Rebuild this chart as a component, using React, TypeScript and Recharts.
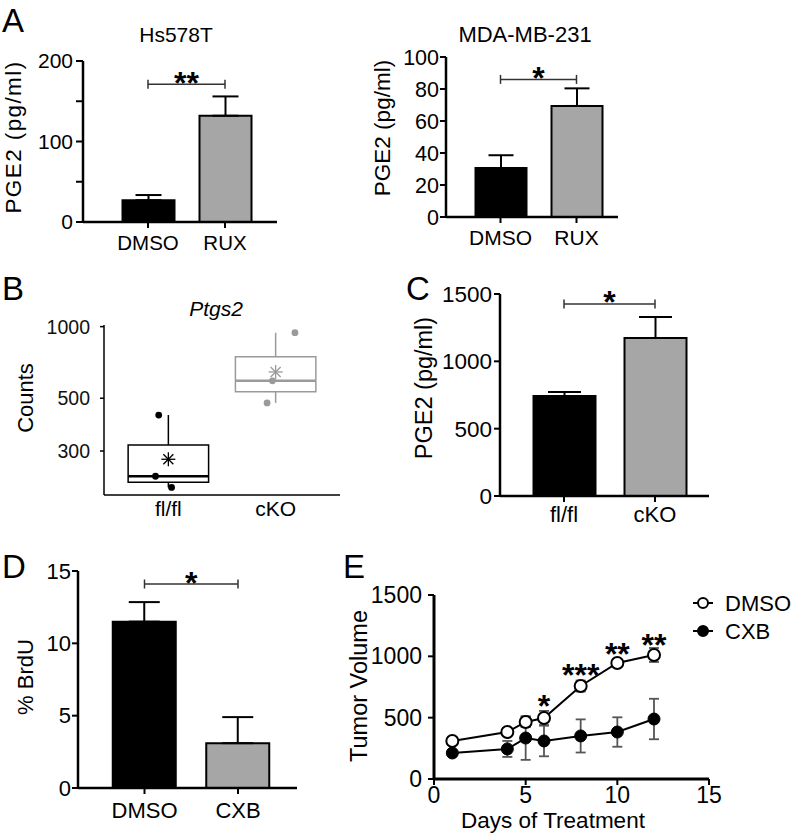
import React from "react";
import {
  BarChart,
  Bar,
  Cell,
  XAxis,
  YAxis,
  ErrorBar,
  ReferenceLine,
  ReferenceArea,
  ReferenceDot,
  ComposedChart,
  Line,
  Scatter,
  Legend,
} from "recharts";

const FONT = '"Liberation Sans", Arial, Helvetica, sans-serif';

// A: PGE2 in cell lines
const treatments = ["DMSO", "RUX"];
const hsPge2 = [27, 132];
const hsPge2Sem = [6.5, 24];
const mdaPge2 = [30.6, 69.4];
const mdaPge2Sem = [8, 11];

// B: Ptgs2 counts (log axis)
const genotypes = ["fl/fl", "cKO"];
const ptgs2Points = [
  [425, 235, 211],
  [943, 592, 478],
];
const ptgs2Jitter = [
  [-0.09, -0.12, 0.03],
  [0.18, -0.03, -0.08],
];
const ptgs2Q1 = [222, 532];
const ptgs2Median = [235, 592];
const ptgs2Q3 = [318, 747];
const ptgs2Low = [211, 478];
const ptgs2High = [425, 943];
const ptgs2Mean = [277, 645];

// C: PGE2 in mice
const micePge2 = [743, 1173];
const micePge2Sem = [29, 156];

// D: BrdU
const brduGroups = ["DMSO", "CXB"];
const brdu = [11.5, 3.1];
const brduSem = [1.35, 1.8];

// E: tumor growth
const days = [1, 4, 5, 6, 8, 10, 12];
const dmsoVolume = [310, 383, 465, 497, 758, 946, 1011];
const dmsoSem = [12, 18, 42, 58, 45, 15, 57];
const cxbVolume = [212, 245, 334, 310, 351, 383, 489];
const cxbSem = [18, 65, 178, 125, 135, 120, 165];
const sigDays = [6, 8, 10, 12];
const sigMarks = ["*", "***", "**", "**"];
const sigHeights = [660, 913, 1077, 1150];

const barColors = ["#000000", "#a6a6a6"];
const boxColors = ["#000000", "#9a9a9a"];
const AXIS = { stroke: "#000", strokeWidth: 2.5 };
const TICKLINE = { stroke: "#000", strokeWidth: 2 };

const bracketLabel = (mark: string) => (props: any) => {
  const vb = props.viewBox || props;
  const x = vb.x;
  const y = vb.y;
  const w = vb.width;
  return (
    <g>
      <line x1={x} y1={y - 4.5} x2={x} y2={y + 4.5} stroke="#333" strokeWidth={1.5} />
      <line x1={x + w} y1={y - 4.5} x2={x + w} y2={y + 4.5} stroke="#333" strokeWidth={1.5} />
      <text x={x + w / 2} y={y + 9.5} textAnchor="middle" fontSize={32} fontWeight="bold" fill="#000">
        {mark}
      </text>
    </g>
  );
};

type BarPanelProps = {
  left: number;
  top: number;
  width: number;
  height: number;
  mt: number;
  mr: number;
  yW: number;
  xH: number;
  cats: string[];
  values: number[];
  sems: number[];
  domain: [number, number];
  ticks: number[];
  hideTicks?: number[];
  padL: number;
  padR: number;
  barSize: number;
  cap: number;
  bracketY: number;
  mark: string;
  yTickSize: number;
  yTickMargin: number;
  xTickMargin: number;
  tickFont: number;
  xFont: number;
};

function BarPanel(p: BarPanelProps) {
  const rows = p.cats.map((c, i) => ({ name: c, value: p.values[i], err: [0, p.sems[i]] }));
  return (
    <div style={{ position: "absolute", left: p.left, top: p.top }}>
      <BarChart
        width={p.width}
        height={p.height}
        data={rows}
        margin={{ top: p.mt, right: p.mr, left: 0, bottom: 0 }}
      >
        <XAxis
          dataKey="name"
          type="category"
          height={p.xH}
          padding={{ left: p.padL, right: p.padR }}
          axisLine={AXIS}
          tickLine={TICKLINE}
          tickSize={6}
          tickMargin={p.xTickMargin}
          tick={{ fontSize: p.xFont, fill: "#000" }}
          interval={0}
        />
        <YAxis
          type="number"
          domain={p.domain}
          ticks={p.ticks}
          width={p.yW}
          axisLine={AXIS}
          tickLine={TICKLINE}
          tickSize={p.yTickSize}
          tickMargin={p.yTickMargin}
          tick={{ fontSize: p.tickFont, fill: "#000" }}
          tickFormatter={(v: number) => (p.hideTicks && p.hideTicks.includes(v) ? "" : String(v))}
          interval={0}
          allowDataOverflow
        />
        <Bar dataKey="value" barSize={p.barSize} stroke="#000" strokeWidth={2} isAnimationActive={false}>
          {rows.map((r, i) => (
            <Cell key={r.name} fill={barColors[i]} />
          ))}
          <ErrorBar dataKey="err" direction="y" width={p.cap} stroke="#000" strokeWidth={2} />
        </Bar>
        <ReferenceLine
          segment={[
            { x: p.cats[0], y: p.bracketY },
            { x: p.cats[1], y: p.bracketY },
          ]}
          stroke="#333"
          strokeWidth={1.5}
          label={bracketLabel(p.mark)}
        />
      </BarChart>
    </div>
  );
}

const asterisk = (color: string) => (s: any) => {
  const { cx, cy } = s;
  const d = 5;
  return (
    <g stroke={color} strokeWidth={1.3}>
      <line x1={cx} y1={cy - 7} x2={cx} y2={cy + 7} />
      <line x1={cx - 7} y1={cy} x2={cx + 7} y2={cy} />
      <line x1={cx - d} y1={cy - d} x2={cx + d} y2={cy + d} />
      <line x1={cx - d} y1={cy + d} x2={cx + d} y2={cy - d} />
    </g>
  );
};

function BoxPanel() {
  const pointRows = genotypes.flatMap((g, gi) =>
    ptgs2Points[gi].map((v, j) => ({ x: gi + 1 + ptgs2Jitter[gi][j], y: v, group: gi }))
  );
  const meanRows = genotypes.map((g, gi) => ({ x: gi + 1, y: ptgs2Mean[gi], group: gi }));
  const half = 0.375;
  return (
    <div style={{ position: "absolute", left: 0, top: 300 }}>
      <ComposedChart width={350} height={225} margin={{ top: 25, right: 10, left: 0, bottom: 0 }}>
        <XAxis
          type="number"
          dataKey="x"
          domain={[0.4, 2.6]}
          ticks={[1, 2]}
          tickFormatter={(v: number) => genotypes[v - 1] || ""}
          height={30}
          axisLine={{ stroke: "#000", strokeWidth: 1.5 }}
          tickLine={false}
          tickSize={0}
          tickMargin={6}
          tick={{ fontSize: 21, fill: "#000" }}
          allowDataOverflow
        />
        <YAxis
          type="number"
          dataKey="y"
          scale="log"
          domain={[196, 1016]}
          ticks={[300, 500, 1000]}
          width={104}
          axisLine={{ stroke: "#000", strokeWidth: 1.5 }}
          tickLine={{ stroke: "#000", strokeWidth: 1.5 }}
          tickSize={4}
          tickMargin={10}
          tick={{ fontSize: 19.5, fill: "#111" }}
          interval={0}
          allowDataOverflow
        />
        {genotypes.map((g, gi) => (
          <ReferenceLine
            key={`hi-${g}`}
            segment={[
              { x: gi + 1, y: ptgs2Q3[gi] },
              { x: gi + 1, y: ptgs2High[gi] },
            ]}
            stroke={boxColors[gi]}
            strokeWidth={1.5}
          />
        ))}
        {genotypes.map((g, gi) => (
          <ReferenceLine
            key={`lo-${g}`}
            segment={[
              { x: gi + 1, y: ptgs2Low[gi] },
              { x: gi + 1, y: ptgs2Q1[gi] },
            ]}
            stroke={boxColors[gi]}
            strokeWidth={1.5}
          />
        ))}
        {genotypes.map((g, gi) => (
          <ReferenceArea
            key={`box-${g}`}
            x1={gi + 1 - half}
            x2={gi + 1 + half}
            y1={ptgs2Q1[gi]}
            y2={ptgs2Q3[gi]}
            fill="#fff"
            fillOpacity={1}
            stroke={boxColors[gi]}
            strokeWidth={1.5}
          />
        ))}
        {genotypes.map((g, gi) => (
          <ReferenceLine
            key={`med-${g}`}
            segment={[
              { x: gi + 1 - half, y: ptgs2Median[gi] },
              { x: gi + 1 + half, y: ptgs2Median[gi] },
            ]}
            stroke={boxColors[gi]}
            strokeWidth={2.6}
          />
        ))}
        <Scatter
          data={pointRows}
          isAnimationActive={false}
          shape={(s: any) => (
            <circle cx={s.cx} cy={s.cy} r={3.4} fill={boxColors[s.payload ? s.payload.group : 0]} />
          )}
        />
        <Scatter
          data={meanRows}
          isAnimationActive={false}
          shape={(s: any) => asterisk(boxColors[s.payload ? s.payload.group : 0])(s)}
        />
      </ComposedChart>
    </div>
  );
}

const legendOrder = ["DMSO", "CXB"];

function TumorLegend(props: any) {
  const payload = props.payload || [];
  const names = legendOrder.filter((n) => payload.length === 0 || payload.some((e: any) => e.value === n));
  return (
    <svg width={110} height={60} style={{ display: "block", fontFamily: FONT }}>
      {names.map((n, i) => {
        const y = 14 + i * 28;
        const open = n === "DMSO";
        return (
          <g key={n}>
            <line x1={0} y1={y} x2={20} y2={y} stroke="#000" strokeWidth={2} />
            <circle cx={10} cy={y} r={5} fill={open ? "#fff" : "#000"} stroke="#000" strokeWidth={2} />
            <text x={32} y={y + 8} fontSize={22} fill="#000">
              {n}
            </text>
          </g>
        );
      })}
    </svg>
  );
}

function TumorPanel() {
  const rows = days.map((d, i) => ({
    day: d,
    dmso: dmsoVolume[i],
    dmsoErr: dmsoSem[i],
    cxb: cxbVolume[i],
    cxbErr: cxbSem[i],
  }));
  return (
    <div style={{ position: "absolute", left: 340, top: 560 }}>
      <ComposedChart width={453} height={249} data={rows} margin={{ top: 35, right: 84, left: 0, bottom: 0 }}>
        <XAxis
          type="number"
          dataKey="day"
          domain={[0, 15]}
          ticks={[0, 5, 10, 15]}
          height={30}
          axisLine={{ stroke: "#000", strokeWidth: 3 }}
          tickLine={TICKLINE}
          tickSize={6}
          tickMargin={2}
          tick={{ fontSize: 23, fill: "#000" }}
          interval={0}
        />
        <YAxis
          type="number"
          domain={[0, 1500]}
          ticks={[0, 500, 1000, 1500]}
          width={94}
          axisLine={{ stroke: "#000", strokeWidth: 3 }}
          tickLine={TICKLINE}
          tickSize={6}
          tickMargin={6}
          tick={{ fontSize: 23, fill: "#000" }}
          interval={0}
        />
        <Line
          dataKey="dmso"
          name="DMSO"
          type="linear"
          stroke="#000"
          strokeWidth={2}
          dot={{ r: 6, stroke: "#000", strokeWidth: 2, fill: "#fff" }}
          isAnimationActive={false}
        >
          <ErrorBar dataKey="dmsoErr" direction="y" width={5} stroke="#555" strokeWidth={1.8} />
        </Line>
        <Line
          dataKey="cxb"
          name="CXB"
          type="linear"
          stroke="#000"
          strokeWidth={2}
          dot={{ r: 6, stroke: "#000", strokeWidth: 1, fill: "#000" }}
          isAnimationActive={false}
        >
          <ErrorBar dataKey="cxbErr" direction="y" width={5} stroke="#555" strokeWidth={1.8} />
        </Line>
        {sigDays.map((d, i) => (
          <ReferenceDot
            key={`sig-${d}`}
            x={d}
            y={sigHeights[i]}
            r={0}
            fill="none"
            stroke="none"
            label={(lp: any) => {
              const vb = lp.viewBox || lp;
              return (
                <text
                  x={vb.x + (vb.width || 0) / 2}
                  y={vb.y + (vb.height || 0) / 2 + 18.5}
                  textAnchor="middle"
                  fontSize={32}
                  fontWeight="bold"
                  fill="#000"
                >
                  {sigMarks[i]}
                </text>
              );
            }}
          />
        ))}
        <Legend
          layout="horizontal"
          align="center"
          verticalAlign="middle"
          content={TumorLegend}
          wrapperStyle={{ left: 353, top: 29, width: 110, height: 60 }}
        />
      </ComposedChart>
    </div>
  );
}

type Caption = {
  text: string;
  x: number;
  y: number;
  size: number;
  rotate?: boolean;
  italic?: boolean;
  anchor?: string;
  spacing?: number;
};

const captions: Caption[] = [
  { text: "A", x: 2, y: 32, size: 33, anchor: "start" },
  { text: "Hs578T", x: 176, y: 42, size: 21 },
  { text: "MDA-MB-231", x: 525, y: 42, size: 22 },
  { text: "PGE2 (pg/ml)", x: 21, y: 137, size: 22.5, rotate: true, spacing: 1.4 },
  { text: "PGE2 (pg/ml)", x: 390, y: 128, size: 22.5, rotate: true },
  { text: "B", x: 2, y: 300, size: 33, anchor: "start" },
  { text: "Ptgs2", x: 216, y: 316, size: 21, italic: true },
  { text: "Counts", x: 33, y: 398, size: 22, rotate: true },
  { text: "C", x: 406, y: 300, size: 33, anchor: "start" },
  { text: "PGE2 (pg/ml)", x: 432, y: 388, size: 23.5, rotate: true },
  { text: "D", x: 2, y: 578, size: 33, anchor: "start" },
  { text: "% BrdU", x: 33, y: 677, size: 22, rotate: true },
  { text: "E", x: 343, y: 578, size: 33, anchor: "start" },
  { text: "Tumor Volume", x: 367, y: 686, size: 23.5, rotate: true },
  { text: "Days of Treatment", x: 553, y: 828, size: 22.5 },
];

export default function App() {
  return (
    <div
      style={{
        position: "absolute",
        left: 0,
        top: 0,
        width: 793,
        height: 836,
        background: "#fff",
        fontFamily: FONT,
        overflow: "hidden",
      }}
    >
      <BarPanel
        left={0}
        top={40}
        width={290}
        height={222}
        mt={21}
        mr={13}
        yW={83}
        xH={40}
        cats={treatments}
        values={hsPge2}
        sems={hsPge2Sem}
        domain={[0, 200]}
        ticks={[0, 50, 100, 150, 200]}
        hideTicks={[50, 150]}
        padL={26.5}
        padR={13.5}
        barSize={52}
        cap={13}
        bracketY={171}
        mark="**"
        yTickSize={7}
        yTickMargin={3}
        xTickMargin={7}
        tickFont={21}
        xFont={20.5}
      />
      <BarPanel
        left={370}
        top={40}
        width={258}
        height={217}
        mt={17}
        mr={10}
        yW={76}
        xH={40}
        cats={treatments}
        values={mdaPge2}
        sems={mdaPge2Sem}
        domain={[0, 100]}
        ticks={[0, 20, 40, 60, 80, 100]}
        padL={16.5}
        padR={3.5}
        barSize={51}
        cap={12.5}
        bracketY={86}
        mark="*"
        yTickSize={6}
        yTickMargin={1}
        xTickMargin={7}
        tickFont={21.5}
        xFont={21}
      />
      <BoxPanel />
      <BarPanel
        left={430}
        top={270}
        width={289}
        height={266}
        mt={24}
        mr={10}
        yW={70}
        xH={40}
        cats={genotypes}
        values={micePge2}
        sems={micePge2Sem}
        domain={[0, 1500]}
        ticks={[0, 500, 1000, 1500]}
        padL={18.5}
        padR={8.5}
        barSize={62}
        cap={16.5}
        bracketY={1426}
        mark="*"
        yTickSize={6}
        yTickMargin={2}
        xTickMargin={4}
        tickFont={22.5}
        xFont={22}
      />
      <BarPanel
        left={0}
        top={545}
        width={307}
        height={283}
        mt={26}
        mr={10}
        yW={78}
        xH={40}
        cats={brduGroups}
        values={brdu}
        sems={brduSem}
        domain={[0, 15]}
        ticks={[0, 5, 10, 15]}
        padL={19.75}
        padR={12.25}
        barSize={63}
        cap={15.5}
        bracketY={14.1}
        mark="*"
        yTickSize={6}
        yTickMargin={1}
        xTickMargin={8}
        tickFont={22}
        xFont={22}
      />
      <TumorPanel />
      <svg
        width={793}
        height={836}
        style={{ position: "absolute", left: 0, top: 0, pointerEvents: "none" }}
      >
        {captions.map((c, i) => (
          <text
            key={i}
            x={c.x}
            y={c.y}
            fontSize={c.size}
            fontStyle={c.italic ? "italic" : "normal"}
            textAnchor={c.anchor || "middle"}
            letterSpacing={c.spacing || 0}
            fill="#000"
            transform={c.rotate ? `rotate(-90 ${c.x} ${c.y})` : undefined}
          >
            {c.text}
          </text>
        ))}
      </svg>
    </div>
  );
}
